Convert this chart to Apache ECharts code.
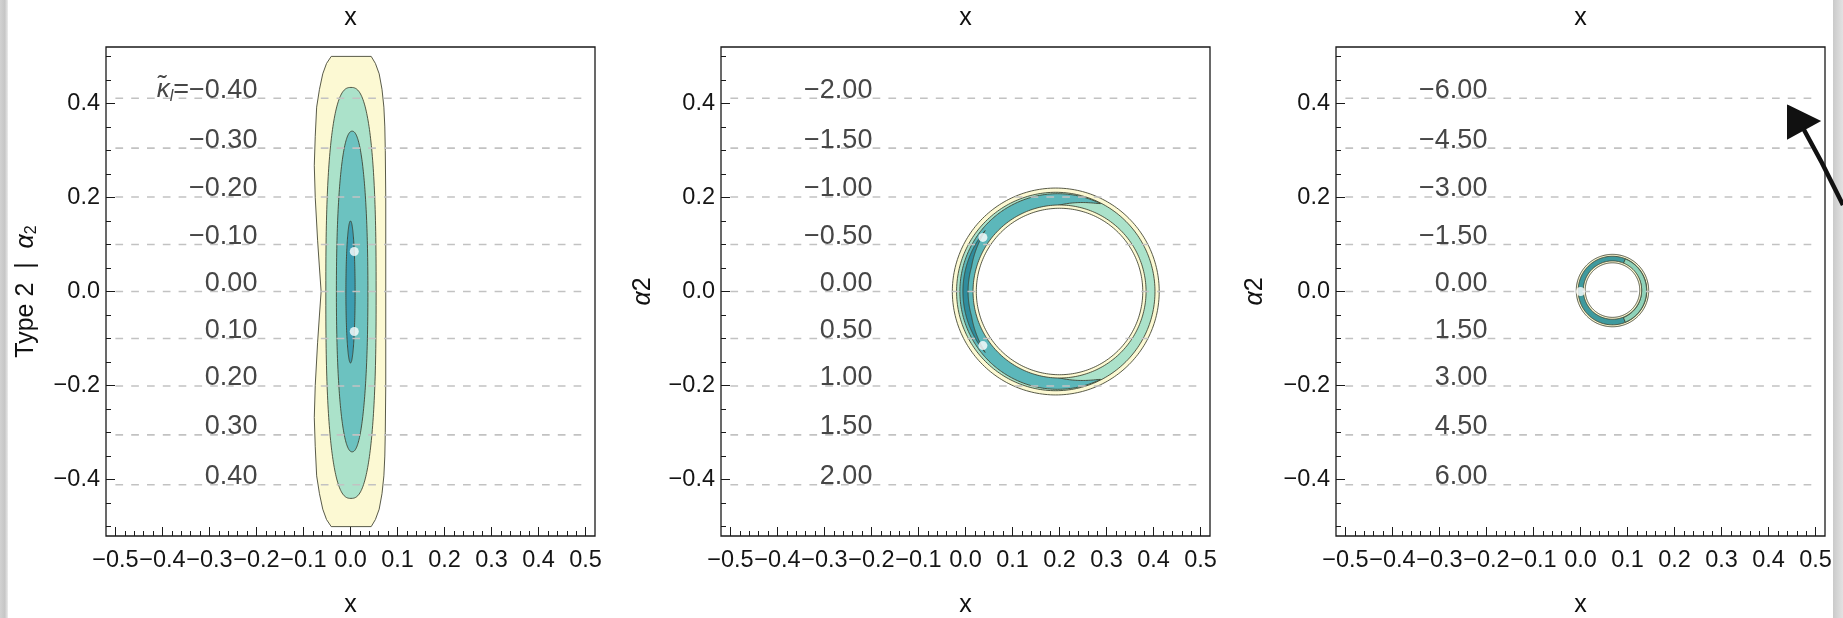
<!DOCTYPE html>
<html><head><meta charset="utf-8">
<script src="https://cdn.jsdelivr.net/npm/echarts@6/dist/echarts.min.js"></script>
<style>html,body{margin:0;padding:0;background:#fff}#c{width:1843px;height:618px}</style>
</head><body><div id="c"></div>
<script>
// ---------- DATA ----------
const xTickValues = [-0.5,-0.4,-0.3,-0.2,-0.1,0,0.1,0.2,0.3,0.4,0.5];
const yTickValues = [-0.4,-0.2,0,0.2,0.4];
// dashed guide lines (alpha2 positions)
const guideLevels = [0.411,0.305,0.201,0.100,0,-0.100,-0.201,-0.305,-0.411];
// kappa labels per panel
const kappaLabels1 = [-0.40,-0.30,-0.20,-0.10,0.00,0.10,0.20,0.30,0.40];
const kappaLabels2 = [-2.00,-1.50,-1.00,-0.50,0.00,0.50,1.00,1.50,2.00];
const kappaLabels3 = [-6.00,-4.50,-3.00,-1.50,0.00,1.50,3.00,4.50,6.00];
const labelAnchorX = -0.198;

// Panel 1: outermost contour region (boundary points)
const p1Region = [
  [0.044,0.5],[0.053,0.485],[0.061,0.463],[0.067,0.43],[0.071,0.392],[0.073,0.35],[0.074,0.3],[0.075,0.2],[0.075,0.1],[0.075,0],
  [0.075,-0.1],[0.075,-0.2],[0.074,-0.3],[0.073,-0.35],[0.071,-0.392],[0.067,-0.43],[0.061,-0.463],[0.053,-0.485],[0.044,-0.5],
  [-0.041,-0.5],[-0.051,-0.485],[-0.059,-0.463],[-0.066,-0.43],[-0.072,-0.392],[-0.075,-0.33],[-0.077,-0.268],[-0.075,-0.2],[-0.070,-0.109],[-0.066,-0.05],[-0.0625,0],
  [-0.066,0.05],[-0.070,0.109],[-0.075,0.2],[-0.077,0.268],[-0.075,0.33],[-0.072,0.392],[-0.066,0.43],[-0.059,0.463],[-0.051,0.485],[-0.041,0.5]
];
// Panel 1: inner contours [cx, cy, rx, ry, exponent]
const p1Ovals = [[0.001,-0.003,0.0535,0.437,2.6],[0.0035,0,0.0335,0.341,2.2],[0,-0.001,0.0098,0.151,2]];
const p1Dots = [[0.008,0.085],[0.008,-0.085]];

// Panel 2: discs [cx, cy, r]; arc bands [cx, cy, rInner, rOuter, startDeg, endDeg, taperDeg]
const p2OuterDiscs = [[0.192,0,0.220],[0.192,0,0.211]];
const p2Bands = [[0.196,0,0.178,0.208,64,296,32],[0.196,0,0.1905,0.2015,140,220,24]];
const p2InnerDiscs = [[0.200,0,0.184],[0.200,0,0.177]];
const p2Dots = [[0.037,0.115],[0.037,-0.115]];

// Panel 3: discs, bands
const p3OuterDiscs = [[0.068,0.002,0.077],[0.068,0.002,0.073]];
const p3Bands = [[0.068,0.002,0.062,0.0725,-68,68,0]];
const p3InnerDiscs = [[0.068,0.003,0.062],[0.068,0.003,0.058]];
const p3Dots = [[0,0]];

// ---------- STYLE ----------
const FONT = "'Liberation Sans', Arial, sans-serif";
const EDGE = 'rgba(60,62,45,0.85)';
const C = {yellow:'#fcf9d3', green:'#abe2ca', teal:'#6cc2c0', deep:'#3c9db1',
  teal2:'#5cb7ba', deep2:'#2f8c9d', ring3:'#3f9a9e', green3:'#8fd2b9', white:'#ffffff'};

// ---------- GEOMETRY HELPERS ----------
function oval(v){const [cx,cy,rx,ry,n]=v;const e=2/n;const pts=[];for(let i=0;i<240;i++){const t=2*Math.PI*i/240;const c=Math.cos(t),s=Math.sin(t);pts.push([cx+rx*Math.sign(c)*Math.pow(Math.abs(c),e),cy+ry*Math.sign(s)*Math.pow(Math.abs(s),e)]);}return pts;}
function disc(v){return oval([v[0],v[1],v[2],v[2],2]);}
function band(v){const [cx,cy,r0,r1,a0,a1,tp]=v;const N=240;const outer=[],inner=[];
  for(let i=0;i<=N;i++){const a=a0+(a1-a0)*i/N;const t=a*Math.PI/180;const d=Math.min(a-a0,a1-a);
    const f=tp>0?Math.pow(Math.min(1,d/tp),0.85):1;const ri=r1-(r1-r0)*f;
    outer.push([cx+r1*Math.cos(t),cy+r1*Math.sin(t)]);inner.push([cx+ri*Math.cos(t),cy+ri*Math.sin(t)]);}
  return outer.concat(inner.reverse());}

function shapeSeries(p, items, colors, build, z){
  return {type:'custom', xAxisIndex:3*p, yAxisIndex:2*p, z:z, silent:true,
    data: items.map(v=>[v[0],v[1]]),
    renderItem(params, api){
      const v = items[params.dataIndex];
      const pts = build(v).map(q=>api.coord(q));
      return {type:'polygon', shape:{points:pts}, style:{fill:colors[params.dataIndex], stroke:EDGE, lineWidth:1}};
    }};
}
function regionSeries(p, pts, color, z){
  return {type:'custom', xAxisIndex:3*p, yAxisIndex:2*p, z:z, silent:true,
    data: [pts[0]],
    renderItem(params, api){
      return {type:'polygon', shape:{points:pts.map(q=>api.coord(q))}, style:{fill:color, stroke:EDGE, lineWidth:1}};
    }};
}
function guideSeries(p){
  return {type:'custom', xAxisIndex:3*p, yAxisIndex:2*p, z:10, silent:true,
    data: guideLevels.map(y=>[0,y]),
    renderItem(params, api){
      const y = guideLevels[params.dataIndex];
      const a = api.coord([-0.5,y]), b = api.coord([0.5,y]);
      return {type:'line', shape:{x1:a[0],y1:a[1],x2:b[0],y2:b[1]}, style:{stroke:'#c2c2c2', lineWidth:1.6, lineDash:[7.7,8.1]}};
    }};
}
function fmtK(v){return v.toFixed(2).replace('-','\u2212');}
function labelSeries(p, labels){
  return {type:'custom', xAxisIndex:3*p, yAxisIndex:2*p, z:11, silent:true,
    data: guideLevels.map(y=>[labelAnchorX,y]),
    renderItem(params, api){
      const i = params.dataIndex;
      const c = api.coord([labelAnchorX, guideLevels[i]]);
      let text = fmtK(labels[i]);
      if (p===0 && i===0) text = '{k|\u03BA\u0303}{s|l}{n|=' + text + '}';
      return {type:'text', x:c[0], y:c[1]-8, style:{text:text, fill:'#464646', fontSize:27, fontFamily:FONT,
        align:'right', verticalAlign:'middle',
        rich:{k:{fontStyle:'italic',fontSize:26,fontFamily:FONT,fill:'#464646'},
              s:{fontStyle:'italic',fontSize:16,fontFamily:FONT,fill:'#464646',padding:[12,0,0,0]},
              n:{fontSize:27,fontFamily:FONT,fill:'#464646'}}}};
    }};
}
function dotSeries(p, dots){
  return {type:'scatter', xAxisIndex:3*p, yAxisIndex:2*p, z:12, silent:true, symbolSize:9,
    itemStyle:{color:'#ffffff'}, data:dots};
}

// ---------- AXES ----------
const minorX = []; for(let i=-25;i<=25;i++){ if(i%5!==0) minorX.push(i/50); }
const minorY = []; for(let i=-10;i<=10;i++){ if(i%4!==0) minorY.push(i/20); }
const RANGE = {min:-0.52, max:0.52};
const NOLINE = {show:false, onZero:false};
const tickFmt = v => (Math.round(v*10)/10).toFixed(1).replace('-','\u2212');
const grids=[], xAxes=[], yAxes=[];
const yNames = ['Type 2  |  {a|\u03B1}{s|2}', '{a|\u03B1}2', '{a|\u03B1}2'];
const yGaps = [66, 65, 68];
for(let p=0;p<3;p++){
  grids.push({left:106+615*p, top:47, width:489, height:489, show:true, borderColor:'#1a1a1a', borderWidth:1.3,
    backgroundColor:'rgba(0,0,0,0)', containLabel:false, outerBoundsMode:'none'});
  xAxes.push({type:'value', gridIndex:p, position:'bottom', ...RANGE, axisLine:NOLINE, splitLine:{show:false},
    axisTick:{show:true, inside:true, length:9, customValues:xTickValues, lineStyle:{color:'#1a1a1a', width:1}},
    axisLabel:{show:true, customValues:xTickValues, formatter:tickFmt, margin:13, fontSize:23.5, color:'#151515', fontFamily:FONT},
    name:'x', nameLocation:'middle', nameGap:57, nameTextStyle:{fontSize:25, color:'#111', fontFamily:FONT}});
  xAxes.push({type:'value', gridIndex:p, position:'bottom', ...RANGE, axisLine:NOLINE, splitLine:{show:false},
    axisTick:{show:true, inside:true, length:5, customValues:minorX, lineStyle:{color:'#1a1a1a', width:1}},
    axisLabel:{show:false}});
  xAxes.push({type:'value', gridIndex:p, position:'top', ...RANGE, axisLine:NOLINE, splitLine:{show:false},
    axisTick:{show:false}, axisLabel:{show:false},
    name:'x', nameLocation:'middle', nameGap:16, nameTextStyle:{fontSize:25, color:'#111', fontFamily:FONT}});
  yAxes.push({type:'value', gridIndex:p, position:'left', ...RANGE, axisLine:NOLINE, splitLine:{show:false},
    axisTick:{show:true, inside:true, length:9, customValues:yTickValues, lineStyle:{color:'#1a1a1a', width:1}},
    axisLabel:{show:true, customValues:yTickValues, formatter:tickFmt, margin:6, fontSize:23.5, color:'#151515', fontFamily:FONT},
    name:yNames[p], nameLocation:'middle', nameRotate:90, nameGap:yGaps[p],
    nameTextStyle:{fontSize:25, color:'#111', fontFamily:FONT,
      rich:{a:{fontStyle:'italic', fontSize:25, color:'#111', fontFamily:FONT},
            s:{fontSize:16, color:'#111', fontFamily:FONT, padding:[12,0,0,0]}}}});
  yAxes.push({type:'value', gridIndex:p, position:'left', ...RANGE, axisLine:NOLINE, splitLine:{show:false},
    axisTick:{show:true, inside:true, length:5, customValues:minorY, lineStyle:{color:'#1a1a1a', width:1}},
    axisLabel:{show:false}});
}

// ---------- SERIES ----------
const series = [
  regionSeries(0, p1Region, C.yellow, 2),
  shapeSeries(0, p1Ovals, [C.green, C.teal, C.deep], oval, 3),
  shapeSeries(1, p2OuterDiscs, [C.yellow, C.green], disc, 2),
  shapeSeries(1, p2Bands, [C.teal2, C.deep2], band, 3),
  shapeSeries(1, p2InnerDiscs, [C.yellow, C.white], disc, 4),
  shapeSeries(2, p3OuterDiscs, [C.yellow, C.ring3], disc, 2),
  shapeSeries(2, p3Bands, [C.green3], band, 3),
  shapeSeries(2, p3InnerDiscs, [C.yellow, C.white], disc, 4),
];
const kl = [kappaLabels1, kappaLabels2, kappaLabels3];
for(let p=0;p<3;p++){ series.push(guideSeries(p)); series.push(labelSeries(p, kl[p])); }
series.push(dotSeries(0,p1Dots), dotSeries(1,p2Dots), dotSeries(2,p3Dots));

const chart = echarts.init(document.getElementById('c'), null, {renderer:'canvas'});
chart.setOption({
  animation:false, backgroundColor:'#ffffff',
  grid:grids, xAxis:xAxes, yAxis:yAxes, series:series,
  graphic:[
    {type:'rect', left:0, top:0, z:100, shape:{width:8, height:618},
      style:{fill:new echarts.graphic.LinearGradient(0,0,1,0,[{offset:0,color:'#d2d2d2'},{offset:0.6,color:'#c6c6c6'},{offset:1,color:'#ececec'}])}},
    {type:'rect', left:1833, top:0, z:100, shape:{width:10, height:618},
      style:{fill:new echarts.graphic.LinearGradient(0,0,1,0,[{offset:0,color:'#cacaca'},{offset:1,color:'#e2e2e2'}])}},
    {type:'polygon', z:101, shape:{points:[[1788,106],[1819,121],[1788,138]]}, style:{fill:'#111', stroke:'#111', lineWidth:2}},
    {type:'polyline', z:101, shape:{points:[[1803,128],[1822,163],[1843,205]]}, style:{stroke:'#111', lineWidth:4.5, fill:null}}
  ]
});
</script></body></html>
